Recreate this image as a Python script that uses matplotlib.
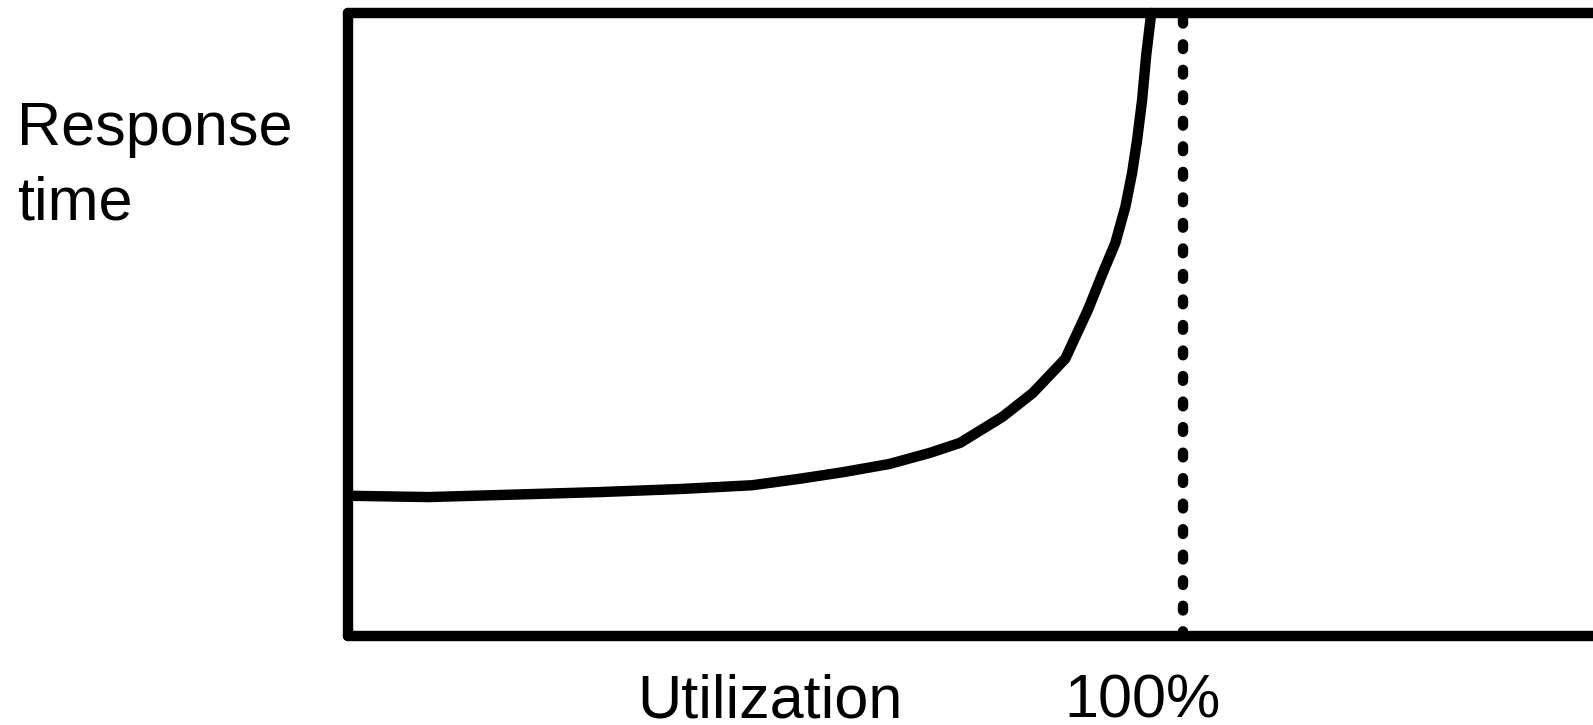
import matplotlib.pyplot as plt

plt.rcParams['font.family'] = ['Liberation Sans', 'DejaVu Sans']

# utilization (%) vs response time (arbitrary units)
utilization = [0.5, 9.7, 30.1, 39.9, 48.4, 53.9, 59.3, 64.8, 69.7, 73.3,
               78.4, 82.0, 85.9, 88.6, 90.4, 91.9, 93.1, 93.9, 94.5,
               95.1, 95.6, 96.2]
response = [2.25, 2.23, 2.31, 2.36, 2.42, 2.52, 2.63, 2.76, 2.94, 3.10,
            3.52, 3.90, 4.45, 5.23, 5.83, 6.31, 6.89, 7.43, 7.96,
            8.60, 9.33, 10.0]
limit = 100

W, H = 1593, 725
fig = plt.figure(figsize=(W / 100, H / 100), dpi=100)
ax = fig.add_axes([348 / W, (H - 636) / H, 1252.5 / W, 623 / H])
ax.set_xlim(0, 150)
ax.set_ylim(0, 10)

ax.plot(utilization, response, color='black', lw=7.5,
        solid_capstyle='round', solid_joinstyle='round', clip_on=False)
ax.axvline(limit, color='black', lw=7.5, dashes=(0.45, 2.0),
           dash_capstyle='round')

for s in ax.spines.values():
    s.set_linewidth(7.5)
    s.set_capstyle('round')
    s.set_joinstyle('round')
ax.set_xticks([])
ax.set_yticks([])

fs = 44
fig.text(17 / W, 1 - 145 / H, 'Response', fontsize=fs, va='baseline')
fig.text(17 / W, 1 - 220 / H, 'time', fontsize=fs, va='baseline')
fig.text(637 / W, 1 - 717 / H, 'Utilization', fontsize=fs, va='baseline')
fig.text(1064 / W, 1 - 717 / H, '100%', fontsize=fs, va='baseline')

fig.savefig('out.png', dpi=100)
